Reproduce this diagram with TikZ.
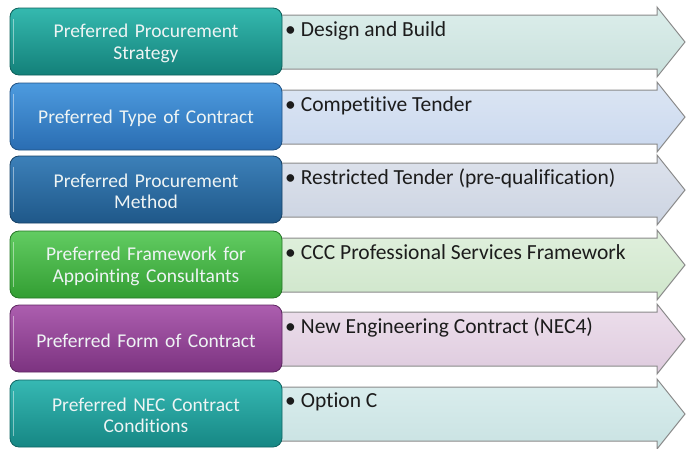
\documentclass[tikz,border=0pt]{standalone}
\usepackage{fontspec}
\setmainfont[Ligatures=CommonOff]{Carlito}
\definecolor{c1t}{HTML}{35B9AF}\definecolor{c1b}{HTML}{138079}
\definecolor{c2t}{HTML}{4D9BDF}\definecolor{c2b}{HTML}{2A6DB2}
\definecolor{c3t}{HTML}{3C80B9}\definecolor{c3b}{HTML}{1F5889}
\definecolor{c4t}{HTML}{62CC62}\definecolor{c4b}{HTML}{339E33}
\definecolor{c5t}{HTML}{AC5EAF}\definecolor{c5b}{HTML}{7C3380}
\definecolor{c6t}{HTML}{36B8B3}\definecolor{c6b}{HTML}{168784}
\definecolor{a1t}{HTML}{DCEEEB}\definecolor{a1b}{HTML}{C9E0DC}
\definecolor{a2t}{HTML}{DCE6F4}\definecolor{a2b}{HTML}{CAD8EE}
\definecolor{a3t}{HTML}{DDE2EC}\definecolor{a3b}{HTML}{CCD4E2}
\definecolor{a4t}{HTML}{E0F0DD}\definecolor{a4b}{HTML}{CFE6CB}
\definecolor{a5t}{HTML}{EDDFEC}\definecolor{a5b}{HTML}{DECBDE}
\definecolor{a6t}{HTML}{DBEEEE}\definecolor{a6b}{HTML}{C9E2E2}
\definecolor{ltext}{HTML}{EEF4F4}
\definecolor{rtext}{HTML}{1C1C1C}
\definecolor{aline}{HTML}{8A8A8A}
\begin{document}
\begin{tikzpicture}[x=1pt,y=-1pt,
  lbox/.style={rounded corners=9pt, minimum width=272pt, minimum height=67pt,
     inner sep=0pt},
  ltxt/.style={inner sep=0pt, align=center, text width=262pt, text=ltext,
     font=\fontsize{19.5}{21.5}\selectfont},
  rlabel/.style={anchor=north west, inner sep=0pt, text=rtext,
     font=\fontsize{21.5}{24}\selectfont},
  arrowshape/.style={draw=aline, line width=1pt, line join=miter}
]
\useasboundingbox (0,0) rectangle (686,448);
\foreach \i/\t/\lt/\rt in {
  1/8/{Preferred Procurement\\Strategy}/{Design and Build},
  2/83/{Preferred Type of Contract}/{Competitive Tender},
  3/156/{Preferred Procurement\\Method}/{Restricted Tender (pre-qualification)},
  4/231/{Preferred Framework for\\Appointing Consultants}/{CCC Professional Services Framework},
  5/305/{Preferred Form of Contract}/{New Engineering Contract (NEC4)},
  6/380/{Preferred NEC Contract\\Conditions}/{Option C}} {
  \draw[arrowshape, top color=a\i t, bottom color=a\i b]
    (270,\t+7) -- (657,\t+7) -- (657,\t-1) -- (685,\t+34) -- (657,\t+69)
    -- (657,\t+61) -- (270,\t+61) -- cycle;
  \node[rlabel] (R\i) at (285,\t+13) {\textbullet\hspace{5pt}\rt};
  \node[lbox, draw=c\i b!75!black, line width=0.8pt, top color=c\i t, bottom color=c\i b]
    (L\i) at (146,\t+33.5) {};
  \draw[white, opacity=0.45, line width=1.5pt, line cap=round]
    ([xshift=4pt,yshift=-12pt]L\i.north west) -- ([xshift=4pt,yshift=12pt]L\i.south west);
  \node[ltxt] (T\i) at ([yshift=-2pt]L\i.center) {\lt};
}
\end{tikzpicture}
\end{document}
